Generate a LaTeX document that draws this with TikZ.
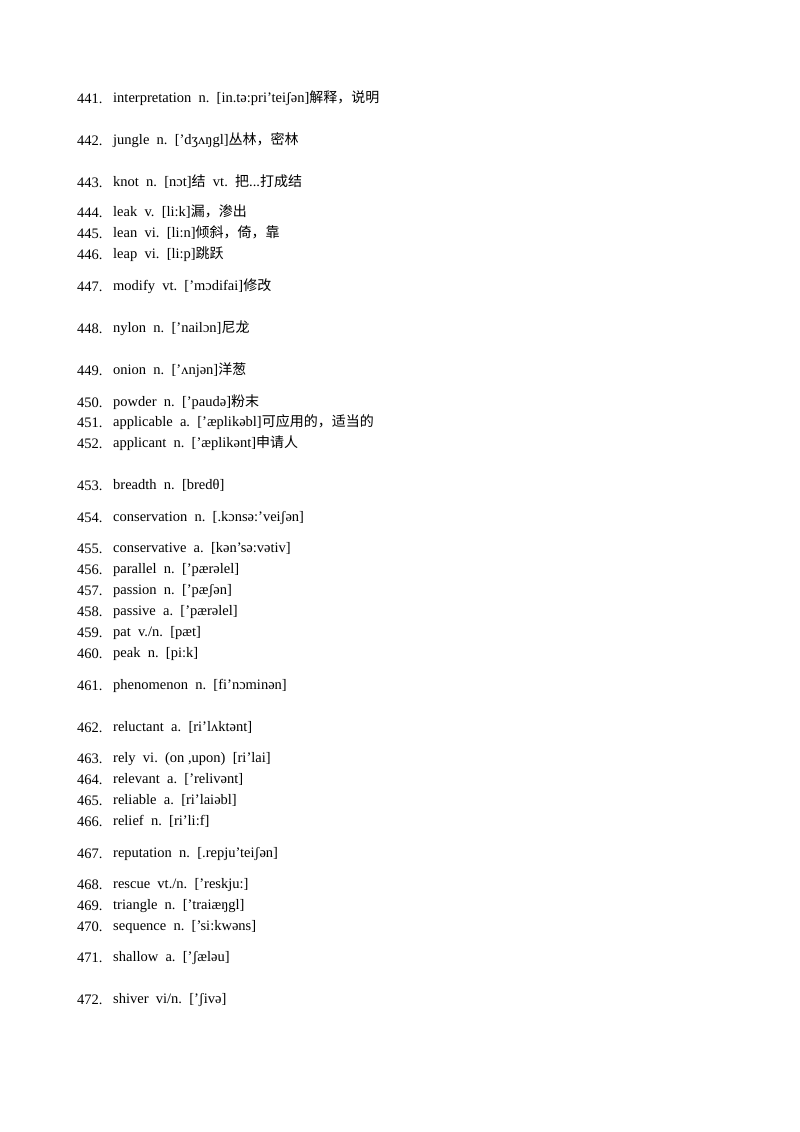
\documentclass[tikz,border=0pt]{standalone}
\usepackage{fontspec}
\setmainfont{Liberation Serif}
\newfontfamily\cjk{Noto Sans CJK SC}
\begin{document}
\begin{tikzpicture}[x=1pt,y=-1pt,
  num/.style={anchor=west,inner sep=0pt,font=\fontsize{14.5}{17}\selectfont},
  ent/.style={anchor=west,inner sep=0pt,font=\fontsize{14.5}{17}\selectfont}]
\useasboundingbox[fill=white] (0,0) rectangle (800,1132);
\newcommand\C[1]{{\cjk\fontsize{14}{17}\selectfont #1}}
\newcommand\E[4]{\node[num] (n#1) at (77,#2) {#1.};\node[ent] (e#1) at (113,#2) {\strut #3};}
\E{441}{99}{interpretation\ \ n.\ \ [in.tə:pri'teiʃən]\C{解释，说明}}{}
\E{442}{141}{jungle\ \ n.\ \ ['dʒʌŋgl]\C{丛林，密林}}{}
\E{443}{183}{knot\ \ n.\ \ [nɔt]\C{结}\ \ vt.\ \ \C{把}...\C{打成结}}{}
\E{444}{213}{leak\ \ v.\ \ [li:k]\C{漏，渗出}}{}
\E{445}{234}{lean\ \ vi.\ \ [li:n]\C{倾斜，倚，靠}}{}
\E{446}{255}{leap\ \ vi.\ \ [li:p]\C{跳跃}}{}
\E{447}{287}{modify\ \ vt.\ \ ['mɔdifai]\C{修改}}{}
\E{448}{329}{nylon\ \ n.\ \ ['nailɔn]\C{尼龙}}{}
\E{449}{371}{onion\ \ n.\ \ ['ʌnjən]\C{洋葱}}{}
\E{450}{403}{powder\ \ n.\ \ ['paudə]\C{粉末}}{}
\E{451}{423}{applicable\ \ a.\ \ ['æplikəbl]\C{可应用的，适当的}}{}
\E{452}{444}{applicant\ \ n.\ \ ['æplikənt]\C{申请人}}{}
\E{453}{486}{breadth\ \ n.\ \ [bredθ]}{}
\E{454}{518}{conservation\ \ n.\ \ [.kɔnsə:'veiʃən]}{}
\E{455}{549}{conservative\ \ a.\ \ [kən'sə:vətiv]}{}
\E{456}{570}{parallel\ \ n.\ \ ['pærəlel]}{}
\E{457}{591}{passion\ \ n.\ \ ['pæʃən]}{}
\E{458}{612}{passive\ \ a.\ \ ['pærəlel]}{}
\E{459}{633}{pat\ \ v./n.\ \ [pæt]}{}
\E{460}{654}{peak\ \ n.\ \ [pi:k]}{}
\E{461}{686}{phenomenon\ \ n.\ \ [fi'nɔminən]}{}
\E{462}{728}{reluctant\ \ a.\ \ [ri'lʌktənt]}{}
\E{463}{759}{rely\ \ vi.\ \ (on\ ,upon)\ \ [ri'lai]}{}
\E{464}{780}{relevant\ \ a.\ \ ['relivənt]}{}
\E{465}{801}{reliable\ \ a.\ \ [ri'laiəbl]}{}
\E{466}{822}{relief\ \ n.\ \ [ri'li:f]}{}
\E{467}{854}{reputation\ \ n.\ \ [.repju'teiʃən]}{}
\E{468}{885}{rescue\ \ vt./n.\ \ ['reskju:]}{}
\E{469}{906}{triangle\ \ n.\ \ ['traiæŋgl]}{}
\E{470}{927}{sequence\ \ n.\ \ ['si:kwəns]}{}
\E{471}{958}{shallow\ \ a.\ \ ['ʃæləu]}{}
\E{472}{1000}{shiver\ \ vi/n.\ \ ['ʃivə]}{}
\end{tikzpicture}
\end{document}
